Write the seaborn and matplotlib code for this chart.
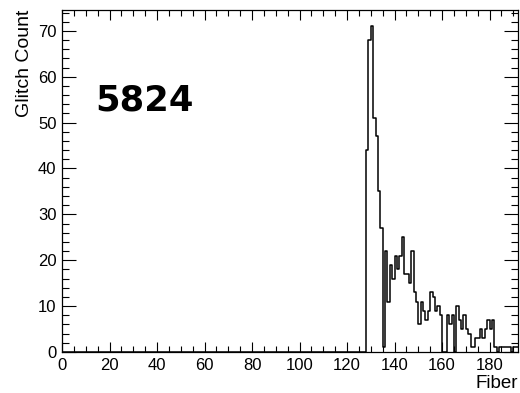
import numpy as np
import pandas as pd
import matplotlib
matplotlib.use("Agg")
import matplotlib.pyplot as plt
from matplotlib.ticker import MultipleLocator
import seaborn as sns

# Glitch counts per fiber (fibers without entries are zero)
fibers = list(range(128, 192))
glitch_counts = [44, 68, 71, 51, 47, 35, 27, 1,
                 22, 11, 19, 16, 21, 18, 21, 25,
                 17, 17, 15, 22, 13, 11, 6, 11,
                 9, 7, 9, 13, 12, 9, 10, 8,
                 0, 0, 8, 6, 8, 0, 10, 7,
                 5, 8, 5, 4, 1, 1, 3, 3,
                 5, 3, 5, 7, 5, 7, 1, 0,
                 1, 1, 1, 1, 1, 0, 1, 1]
fiber_range = (0, 192)
x_ticks = [0, 20, 40, 60, 80, 100, 120, 140, 160, 180]
y_ticks = [0, 10, 20, 30, 40, 50, 60, 70]
run_label = "5824"

sns.set_style("ticks")
plt.rcParams["font.family"] = ["Liberation Sans", "DejaVu Sans"]
plt.rcParams["text.color"] = "black"
plt.rcParams["axes.labelcolor"] = "black"

df = pd.DataFrame({"Fiber": fibers, "count": glitch_counts})

fig = plt.figure(figsize=(5.2, 3.93), dpi=100)
ax = fig.add_axes([62 / 520, 41 / 393, 456 / 520, 342 / 393])

sns.histplot(data=df, x="Fiber", weights="count", binwidth=1,
             binrange=fiber_range, element="step", fill=False,
             color="black", linewidth=1.1, ax=ax)

ax.set_xlim(*fiber_range)
ax.set_ylim(0, max(glitch_counts) * 1.05)

ax.xaxis.set_major_locator(MultipleLocator(20))
ax.xaxis.set_minor_locator(MultipleLocator(5))
ax.yaxis.set_major_locator(MultipleLocator(10))
ax.yaxis.set_minor_locator(MultipleLocator(2))
ax.set_xticks(x_ticks)
ax.set_yticks(y_ticks)

ax.tick_params(axis="both", which="both", direction="in",
               top=True, right=True, color="black", labelcolor="black",
               labelsize=12, width=0.8)
ax.tick_params(axis="x", which="major", length=7.5, pad=4)
ax.tick_params(axis="x", which="minor", length=4)
ax.tick_params(axis="y", which="major", length=10, pad=4)
ax.tick_params(axis="y", which="minor", length=5)

for s in ax.spines.values():
    s.set_linewidth(0.9)
    s.set_color("black")

ax.set_xlabel("Fiber", loc="right", fontsize=13.5, labelpad=2)
ax.set_ylabel("Glitch Count", loc="top", fontsize=14, labelpad=3.5)

ax.text(0.072, 0.705, run_label, transform=ax.transAxes,
        ha="left", va="baseline", fontsize=25.5, fontweight="bold",
        family=["DejaVu Sans"])

fig.savefig("out.png", dpi=100)
